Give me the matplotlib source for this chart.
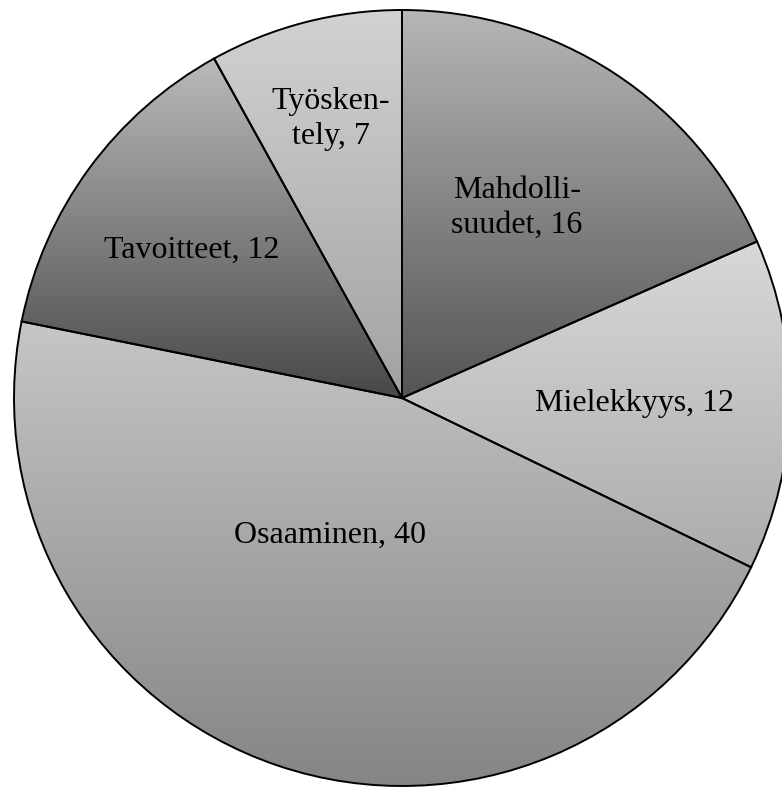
import numpy as np
import matplotlib
matplotlib.use("Agg")
import matplotlib.pyplot as plt
from matplotlib.colors import LinearSegmentedColormap

# Slice names and counts, drawn clockwise from twelve o'clock
names = ["Mahdolli-\nsuudet", "Mielekkyys", "Osaaminen", "Tavoitteet", "Työsken-\ntely"]
counts = [16, 12, 40, 12, 7]

# Vertical gradient of each slice: colour at its top and at its bottom
top_colors = ["#b6b6b6", "#d8d8d8", "#c6c6c6", "#bababa", "#d2d2d2"]
bottom_colors = ["#545454", "#acacac", "#858585", "#484848", "#a2a2a2"]

# Label placement: distance from the centre (fraction of radius) and
# angular shift from the slice's middle, in degrees
label_radius = [0.572, 0.60, 0.399, 0.663, 0.742]
label_shift = [1.9, -0.2, -9.1, 1.1, -0.2]

W, H, DPI = 782, 787, 100
cx, cy, R = 402, 398, 388

fig = plt.figure(figsize=(W / DPI, H / DPI), dpi=DPI)
ax = fig.add_axes([0, 0, 1, 1])

wedges, _ = ax.pie(counts, startangle=90, counterclock=False, radius=1,
                   wedgeprops=dict(facecolor="none", edgecolor="black", linewidth=1.4, zorder=3))

grad = np.linspace(0, 1, 256).reshape(-1, 1)
for w, c0, c1 in zip(wedges, top_colors, bottom_colors):
    ext = w.get_path().get_extents()
    cmap = LinearSegmentedColormap.from_list("g", [c1, c0])
    im = ax.imshow(grad, cmap=cmap, origin="lower", aspect="auto",
                   extent=[ext.x0, ext.x1, ext.y0, ext.y1], zorder=2,
                   interpolation="bilinear")
    im.set_clip_path(w)

ax.set_xlim(-cx / R, (W - cx) / R)
ax.set_ylim(-(H - cy) / R, cy / R)
ax.set_aspect("auto")
ax.axis("off")

for w, name, n, fr, sh in zip(wedges, names, counts, label_radius, label_shift):
    mid = np.deg2rad((w.theta1 + w.theta2) / 2 + sh)
    ax.text(fr * np.cos(mid), fr * np.sin(mid), f"{name}, {n}",
            ha="center", va="center", ma="center", fontsize=23,
            family="Liberation Serif", linespacing=1.28, zorder=4)

fig.savefig("out.png", dpi=DPI)
